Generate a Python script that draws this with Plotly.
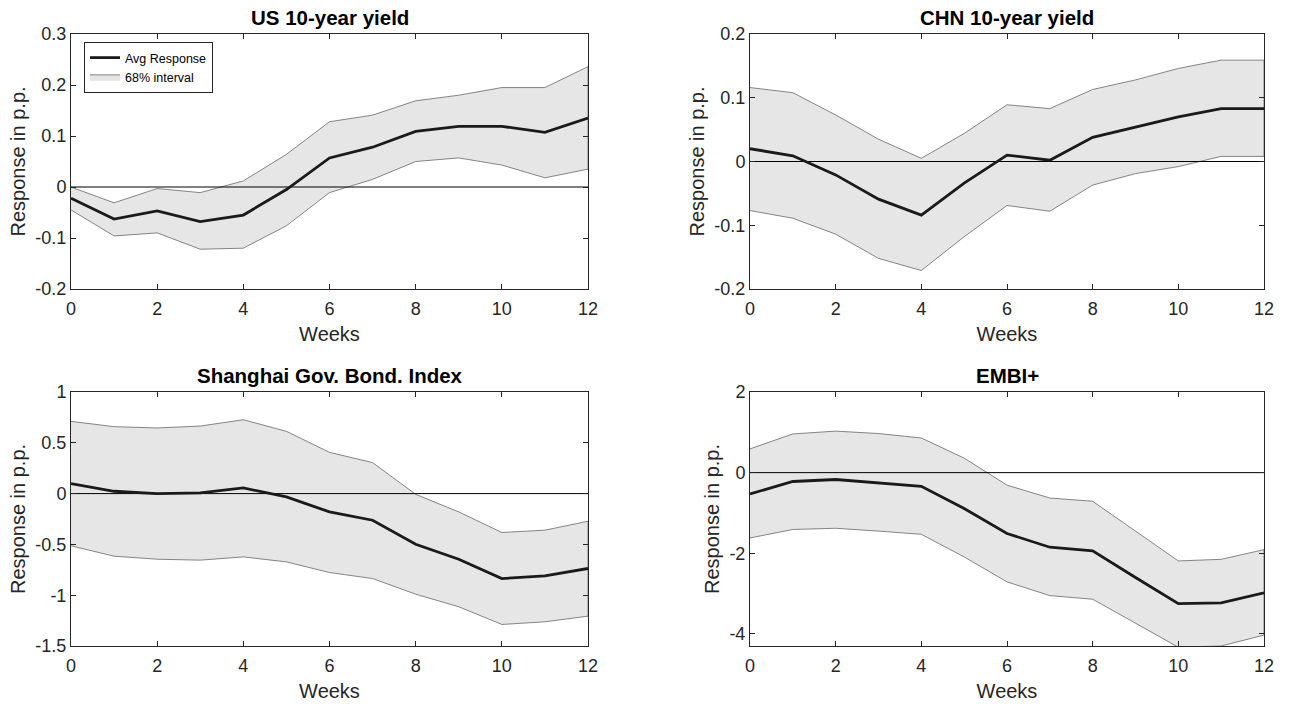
import plotly.graph_objects as go

weeks = list(range(13))

titles = ["US 10-year yield", "CHN 10-year yield", "Shanghai Gov. Bond. Index", "EMBI+"]

us_mean = [-0.022, -0.063, -0.047, -0.068, -0.055, -0.005, 0.057, 0.078, 0.109, 0.119, 0.119, 0.107, 0.135]
us_upper = [0.0, -0.031, -0.003, -0.011, 0.012, 0.064, 0.128, 0.141, 0.169, 0.180, 0.195, 0.195, 0.236]
us_lower = [-0.045, -0.096, -0.090, -0.122, -0.120, -0.076, -0.011, 0.015, 0.050, 0.057, 0.043, 0.018, 0.035]

chn_mean = [0.020, 0.009, -0.021, -0.059, -0.084, -0.034, 0.010, 0.002, 0.038, 0.054, 0.070, 0.083, 0.083]
chn_upper = [0.116, 0.108, 0.073, 0.035, 0.005, 0.044, 0.089, 0.083, 0.113, 0.128, 0.146, 0.159, 0.159]
chn_lower = [-0.077, -0.089, -0.114, -0.152, -0.171, -0.118, -0.069, -0.078, -0.037, -0.019, -0.008, 0.008, 0.008]

sh_mean = [0.098, 0.023, 0.0, 0.007, 0.056, -0.033, -0.180, -0.262, -0.498, -0.646, -0.836, -0.810, -0.737]
sh_upper = [0.711, 0.659, 0.646, 0.665, 0.727, 0.613, 0.406, 0.305, -0.007, -0.180, -0.383, -0.360, -0.272]
sh_lower = [-0.514, -0.616, -0.646, -0.655, -0.623, -0.672, -0.777, -0.836, -0.990, -1.114, -1.288, -1.262, -1.206]

embi_mean = [-0.53, -0.22, -0.17, -0.26, -0.34, -0.89, -1.51, -1.85, -1.94, -2.60, -3.25, -3.23, -2.98]
embi_upper = [0.59, 0.96, 1.03, 0.97, 0.86, 0.36, -0.31, -0.63, -0.71, -1.44, -2.19, -2.15, -1.91]
embi_lower = [-1.62, -1.41, -1.38, -1.45, -1.53, -2.09, -2.71, -3.05, -3.14, -3.74, -4.33, -4.30, -4.03]

y_ranges = [[-0.2, 0.3], [-0.2, 0.2], [-1.5, 1], [-4.3, 2]]
y_ticks = [[-0.2, -0.1, 0, 0.1, 0.2, 0.3], [-0.2, -0.1, 0, 0.1, 0.2],
           [-1.5, -1, -0.5, 0, 0.5, 1], [-4, -2, 0, 2]]
y_ticktext = [["-0.2", "-0.1", "0", "0.1", "0.2", "0.3"], ["-0.2", "-0.1", "0", "0.1", "0.2"],
              ["-1.5", "-1", "-0.5", "0", "0.5", "1"], ["-4", "-2", "0", "2"]]
x_ticks = [0, 2, 4, 6, 8, 10, 12]

series = [(us_mean, us_upper, us_lower), (chn_mean, chn_upper, chn_lower),
          (sh_mean, sh_upper, sh_lower), (embi_mean, embi_upper, embi_lower)]

W, H = 1290, 704
# axes boxes in pixels: (left, right, top, bottom)
boxes = [(71, 588, 34, 289), (750, 1264, 34, 289), (71, 588, 392, 646), (750, 1264, 392, 646)]

FONT = "Liberation Sans, Arial, Helvetica, sans-serif"
AX = "#262626"


def fx(px):
    return px / W


def fy(py):
    return 1 - py / H


fig = go.Figure()
annotations = []
for i, ((m, up, lo), (l, r, t, b)) in enumerate(zip(series, boxes)):
    n = i + 1
    xa = "x" if n == 1 else f"x{n}"
    ya = "y" if n == 1 else f"y{n}"
    fig.add_trace(go.Scatter(
        x=weeks + weeks[::-1], y=up + lo[::-1], fill="toself", fillcolor="#e6e6e6",
        line=dict(color="#555555", width=0.7), mode="lines", name="68% interval",
        showlegend=(n == 1), legendrank=2, xaxis=xa, yaxis=ya, hoverinfo="skip"))
    fig.add_trace(go.Scatter(
        x=weeks, y=[0] * len(weeks), mode="lines", line=dict(color="#000000", width=1),
        showlegend=False, xaxis=xa, yaxis=ya, hoverinfo="skip"))
    fig.add_trace(go.Scatter(
        x=weeks, y=m, mode="lines", line=dict(color="#1a1a1a", width=2.8),
        name="Avg Response", showlegend=(n == 1), legendrank=1, xaxis=xa, yaxis=ya))

    axcommon = dict(showline=True, linecolor=AX, linewidth=1, mirror="ticks", ticks="inside",
                    ticklen=5, tickcolor=AX, showgrid=False, zeroline=False, automargin=False,
                    tickfont=dict(family=FONT, size=18, color=AX))
    fig.layout[f"xaxis{'' if n == 1 else n}"] = dict(
        domain=[fx(l), fx(r)], anchor=ya, range=[0, 12], tickvals=x_ticks,
        ticklabelstandoff=3,
        title=dict(text="Weeks", font=dict(family=FONT, size=20, color=AX), standoff=9),
        **axcommon)
    fig.layout[f"yaxis{'' if n == 1 else n}"] = dict(
        domain=[fy(b), fy(t)], anchor=xa, range=y_ranges[i],
        tickvals=y_ticks[i], ticktext=y_ticktext[i],
        title=dict(text="Response in p.p.", font=dict(family=FONT, size=20, color=AX), standoff=4),
        **axcommon)
    annotations.append(dict(
        text=f"<b>{titles[i]}</b>", x=(fx(l) + fx(r)) / 2, y=fy(t - 3), xref="paper", yref="paper",
        xanchor="center", yanchor="bottom", showarrow=False,
        font=dict(family=FONT, size=20.5, color="#000000")))

fig.update_layout(
    width=W, height=H, margin=dict(l=0, r=0, t=0, b=0),
    paper_bgcolor="white", plot_bgcolor="white",
    annotations=annotations,
    legend=dict(x=fx(84), y=fy(42), xanchor="left", yanchor="top",
                bgcolor="white", bordercolor=AX, borderwidth=1,
                font=dict(family=FONT, size=12.5, color="#000000"),
                tracegroupgap=0, itemwidth=30),
    showlegend=True,
)

# remove the default 8px page margin so the figure fills the window exactly
fig.write_html("out.html", config={"displayModeBar": False},
               post_script="document.body.style.margin='0';")
